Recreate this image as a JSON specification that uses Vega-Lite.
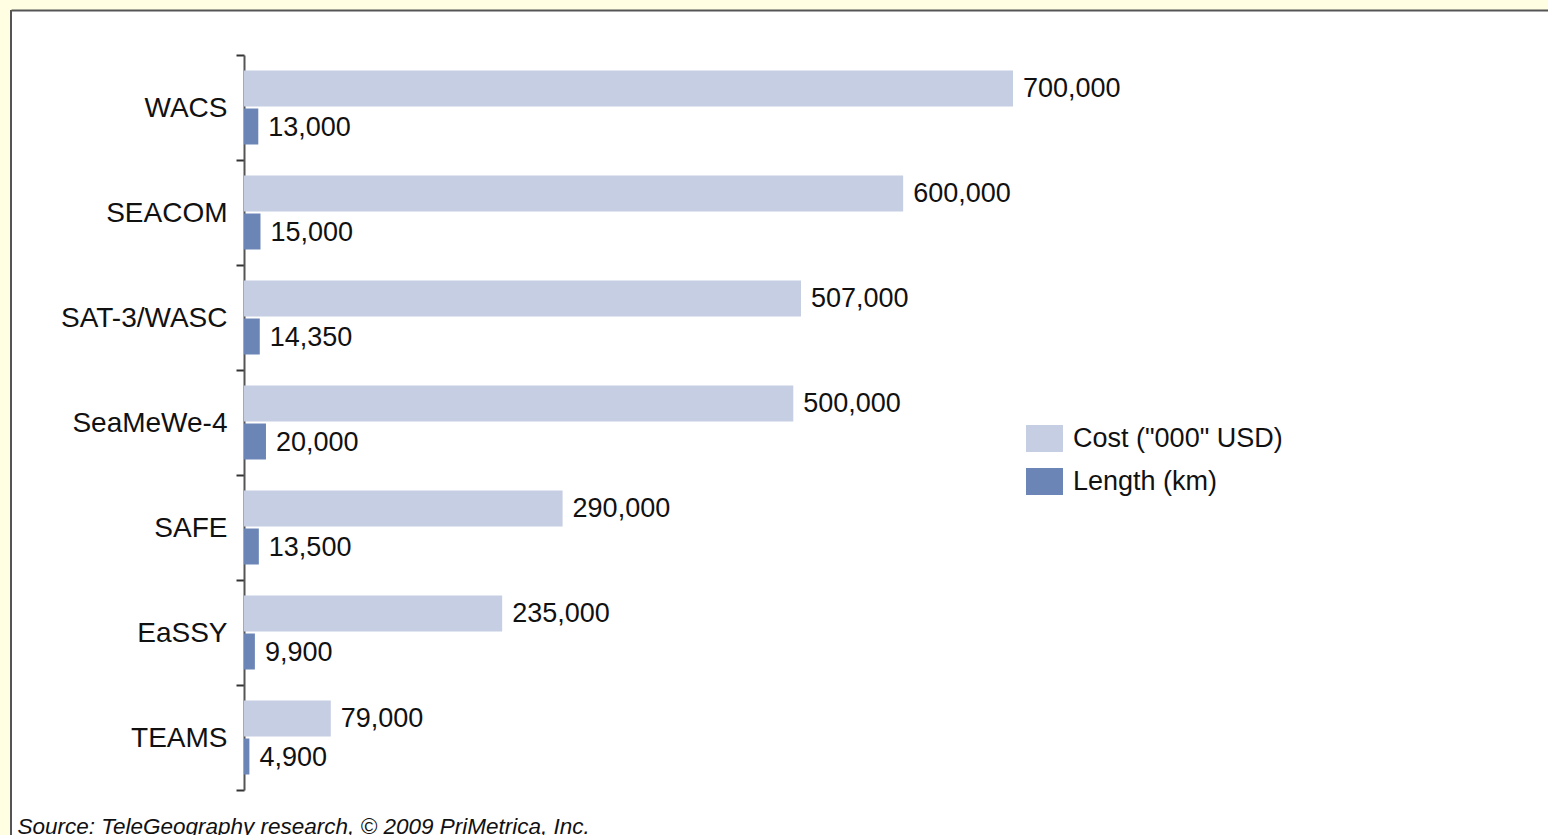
{
  "$schema": "https://vega.github.io/schema/vega-lite/v6.json",
  "width": 1537,
  "height": 825,
  "autosize": "none",
  "padding": {"left": 11, "top": 10, "right": 0, "bottom": 0},
  "background": "#fffee2",
  "config": {
    "view": {"fill": "white", "stroke": null},
    "font": "Liberation Sans",
    "text": {"font": "Liberation Sans"}
  },
  "data": {
    "values": [
      {"cable": "WACS", "series": "Cost (\"000\" USD)", "value": 700000},
      {"cable": "WACS", "series": "Length (km)", "value": 13000},
      {"cable": "SEACOM", "series": "Cost (\"000\" USD)", "value": 600000},
      {"cable": "SEACOM", "series": "Length (km)", "value": 15000},
      {"cable": "SAT-3/WASC", "series": "Cost (\"000\" USD)", "value": 507000},
      {"cable": "SAT-3/WASC", "series": "Length (km)", "value": 14350},
      {"cable": "SeaMeWe-4", "series": "Cost (\"000\" USD)", "value": 500000},
      {"cable": "SeaMeWe-4", "series": "Length (km)", "value": 20000},
      {"cable": "SAFE", "series": "Cost (\"000\" USD)", "value": 290000},
      {"cable": "SAFE", "series": "Length (km)", "value": 13500},
      {"cable": "EaSSY", "series": "Cost (\"000\" USD)", "value": 235000},
      {"cable": "EaSSY", "series": "Length (km)", "value": 9900},
      {"cable": "TEAMS", "series": "Cost (\"000\" USD)", "value": 79000},
      {"cable": "TEAMS", "series": "Length (km)", "value": 4900}
    ]
  },
  "layer": [
    {
      "mark": {"type": "rule", "color": "#555555", "strokeWidth": 2},
      "encoding": {"x": {"datum": -212094, "type": "quantitative"}}
    },
    {
      "mark": {"type": "bar"},
      "encoding": {
        "y": {
          "field": "cable",
          "type": "nominal",
          "sort": ["WACS", "SEACOM", "SAT-3/WASC", "SeaMeWe-4", "SAFE", "EaSSY", "TEAMS"],
          "scale": {"range": [45, 780], "paddingInner": 0, "paddingOuter": 0},
          "axis": {
            "title": null,
            "orient": "left",
            "offset": -233,
            "tickBand": "extent",
            "domainColor": "#555555",
            "domainWidth": 2,
            "tickColor": "#333333",
            "tickWidth": 2,
            "tickSize": 8,
            "labelFont": "Liberation Sans",
            "labelFontSize": 28,
            "labelColor": "#111111",
            "labelPadding": 9,
            "labelOffset": 1,
            "labelLimit": 300
          }
        },
        "yOffset": {
          "field": "series",
          "type": "nominal",
          "sort": ["Cost (\"000\" USD)", "Length (km)"],
          "scale": {"paddingInner": 0.053, "paddingOuter": 0.408}
        },
        "x": {
          "field": "value",
          "type": "quantitative",
          "scale": {"domain": [-212094, 1186996], "nice": false, "zero": false},
          "axis": {
            "orient": "top",
            "labels": false,
            "ticks": false,
            "grid": false,
            "domain": true,
            "domainColor": "#555555",
            "domainWidth": 2,
            "title": "Source: TeleGeography research, © 2009 PriMetrica, Inc.",
            "titleX": 6,
            "titleY": 823,
            "titleAnchor": "start",
            "titleAlign": "left",
            "titleBaseline": "alphabetic",
            "titleFont": "Liberation Sans",
            "titleFontStyle": "italic",
            "titleFontWeight": "normal",
            "titleFontSize": 22.5,
            "titleColor": "#111111",
            "titleLimit": 1000
          }
        },
        "color": {
          "field": "series",
          "type": "nominal",
          "scale": {"domain": ["Cost (\"000\" USD)", "Length (km)"], "range": ["#c5cee2", "#6a85b6"]},
          "legend": {
            "title": null,
            "orient": "none",
            "legendX": 1015,
            "legendY": 410,
            "padding": 0,
            "symbolType": "M-1,-0.73H1V0.73H-1Z",
            "symbolSize": 1369,
            "symbolStrokeWidth": 0,
            "labelFont": "Liberation Sans",
            "labelFontSize": 27,
            "labelColor": "#111111",
            "labelOffset": 10,
            "labelLimit": 400,
            "rowPadding": 10
          }
        }
      }
    },
    {
      "mark": {"type": "text", "dx": 10, "dy": 1, "align": "left", "baseline": "middle", "fontSize": 27, "color": "#111111"},
      "encoding": {
        "y": {"field": "cable", "type": "nominal", "sort": ["WACS", "SEACOM", "SAT-3/WASC", "SeaMeWe-4", "SAFE", "EaSSY", "TEAMS"]},
        "yOffset": {"field": "series", "type": "nominal", "sort": ["Cost (\"000\" USD)", "Length (km)"]},
        "x": {"field": "value", "type": "quantitative"},
        "text": {"field": "value", "type": "quantitative", "format": ",.0f"}
      }
    }
  ]
}
